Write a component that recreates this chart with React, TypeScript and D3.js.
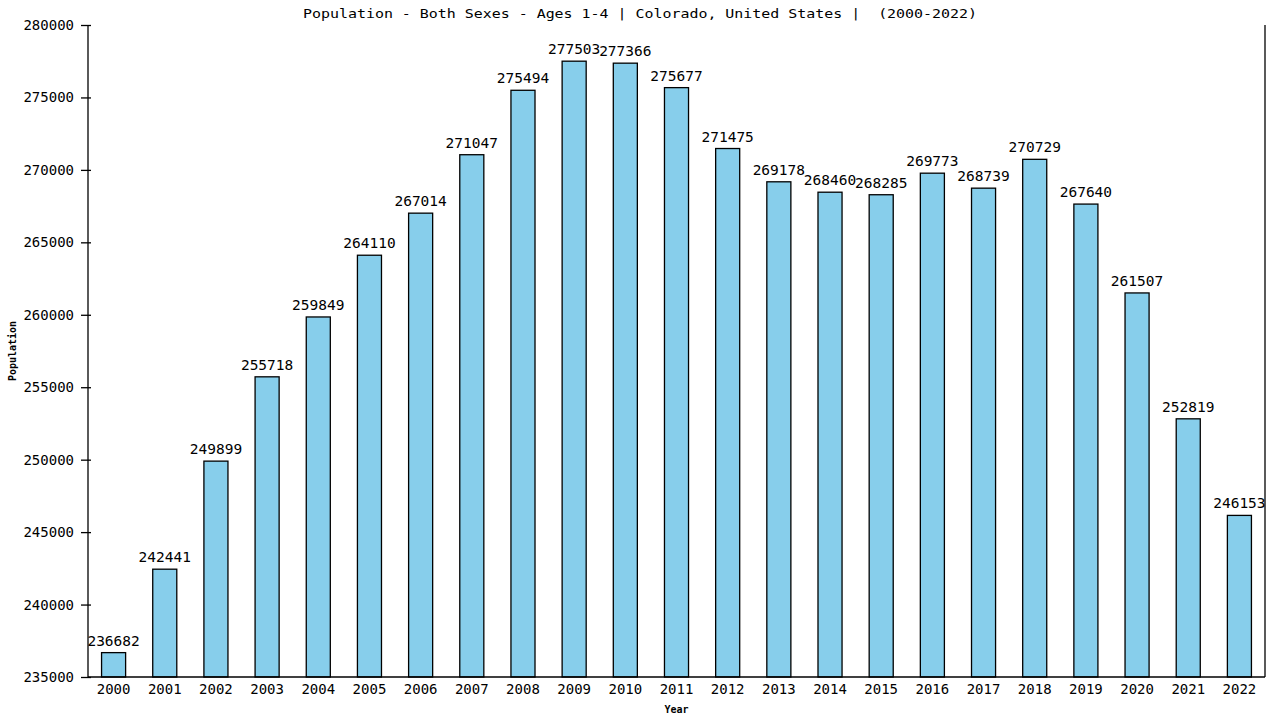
import { useEffect, useRef } from "react";
import * as d3 from "d3";

const years = [
  "2000", "2001", "2002", "2003", "2004", "2005", "2006", "2007", "2008", "2009", "2010", "2011",
  "2012", "2013", "2014", "2015", "2016", "2017", "2018", "2019", "2020", "2021", "2022",
];
const population = [
  236682, 242441, 249899, 255718, 259849, 264110, 267014, 271047, 275494, 277503, 277366, 275677,
  271475, 269178, 268460, 268285, 269773, 268739, 270729, 267640, 261507, 252819, 246153,
];
const yTicks = [235000, 240000, 245000, 250000, 255000, 260000, 265000, 270000, 275000, 280000];
const title = "Population - Both Sexes - Ages 1-4 | Colorado, United States |  (2000-2022)";

export default function App() {
  const svgRef = useRef<SVGSVGElement>(null);
  const width = 1280;
  const height = 720;

  useEffect(() => {
    const svg = svgRef.current;
    if (!svg) return;
    const root = d3.select(svg);
    root.selectAll("*").remove();

    const margin = { top: 25, right: 15, bottom: 43, left: 88 };
    const innerW = width - margin.left - margin.right;
    const innerH = height - margin.top - margin.bottom;
    const font = "'DejaVu Sans Mono', monospace";

    const x = d3.scaleBand().domain(years).range([0, innerW]).paddingInner(0.53).paddingOuter(0.265);
    const y = d3.scaleLinear().domain([235000, 280000]).range([innerH, 0]);

    // title: wide, short monospace in the original
    root
      .append("text")
      .attr("x", 303)
      .attr("y", 18)
      .attr("font-family", font)
      .attr("font-size", 12.5)
      .attr("textLength", 674)
      .attr("lengthAdjust", "spacingAndGlyphs")
      .style("white-space", "pre")
      .text(title);

    const g = root.append("g").attr("transform", `translate(${margin.left},${margin.top})`);

    g.selectAll("rect.bar")
      .data(population)
      .join("rect")
      .attr("class", "bar")
      .attr("x", (_, i) => x(years[i])!)
      .attr("y", (d) => y(d))
      .attr("width", x.bandwidth())
      .attr("height", (d) => innerH - y(d))
      .attr("fill", "#87CEEB")
      .attr("stroke", "#000")
      .attr("stroke-width", 1.3);

    g.selectAll("text.val")
      .data(population)
      .join("text")
      .attr("class", "val")
      .attr("x", (_, i) => x(years[i])! + x.bandwidth() / 2)
      .attr("y", (d) => y(d) - 7)
      .attr("text-anchor", "middle")
      .attr("font-family", font)
      .attr("font-size", 14.5)
      .text((d) => String(d));

    const yAxis = g
      .append("g")
      .call(d3.axisLeft(y).tickValues(yTicks).tickSize(8).tickFormat((d) => String(d)));
    yAxis.selectAll(".tick line").attr("x2", -7).attr("x1", 3);
    yAxis.selectAll(".tick text").attr("x", -14);
    yAxis.select(".domain").attr("d", `M0,0V${innerH}`);

    const xAxis = g
      .append("g")
      .attr("transform", `translate(0,${innerH})`)
      .call(d3.axisBottom(x).tickSize(0).tickPadding(7));
    xAxis.select(".domain").attr("d", `M0,0H${innerW}`);

    g.append("line")
      .attr("x1", innerW)
      .attr("x2", innerW)
      .attr("y1", 0)
      .attr("y2", innerH)
      .attr("stroke", "#000")
      .attr("stroke-width", 1.3);

    root.selectAll(".tick text").attr("font-family", font).attr("font-size", 14).attr("fill", "#000");
    root.selectAll(".domain, .tick line").attr("stroke", "#000").attr("stroke-width", 1.3);

    root
      .append("text")
      .attr("x", margin.left + innerW / 2)
      .attr("y", 713)
      .attr("text-anchor", "middle")
      .attr("font-family", font)
      .attr("font-size", 10)
      .attr("font-weight", "bold")
      .text("Year");

    root
      .append("text")
      .attr("transform", `translate(16,${margin.top + innerH / 2}) rotate(-90)`)
      .attr("text-anchor", "middle")
      .attr("font-family", font)
      .attr("font-size", 10)
      .attr("font-weight", "bold")
      .text("Population");
  }, []);

  return (
    <svg
      ref={svgRef}
      width={width}
      height={height}
      style={{ position: "absolute", left: 0, top: 0, background: "#fff" }}
    />
  );
}
